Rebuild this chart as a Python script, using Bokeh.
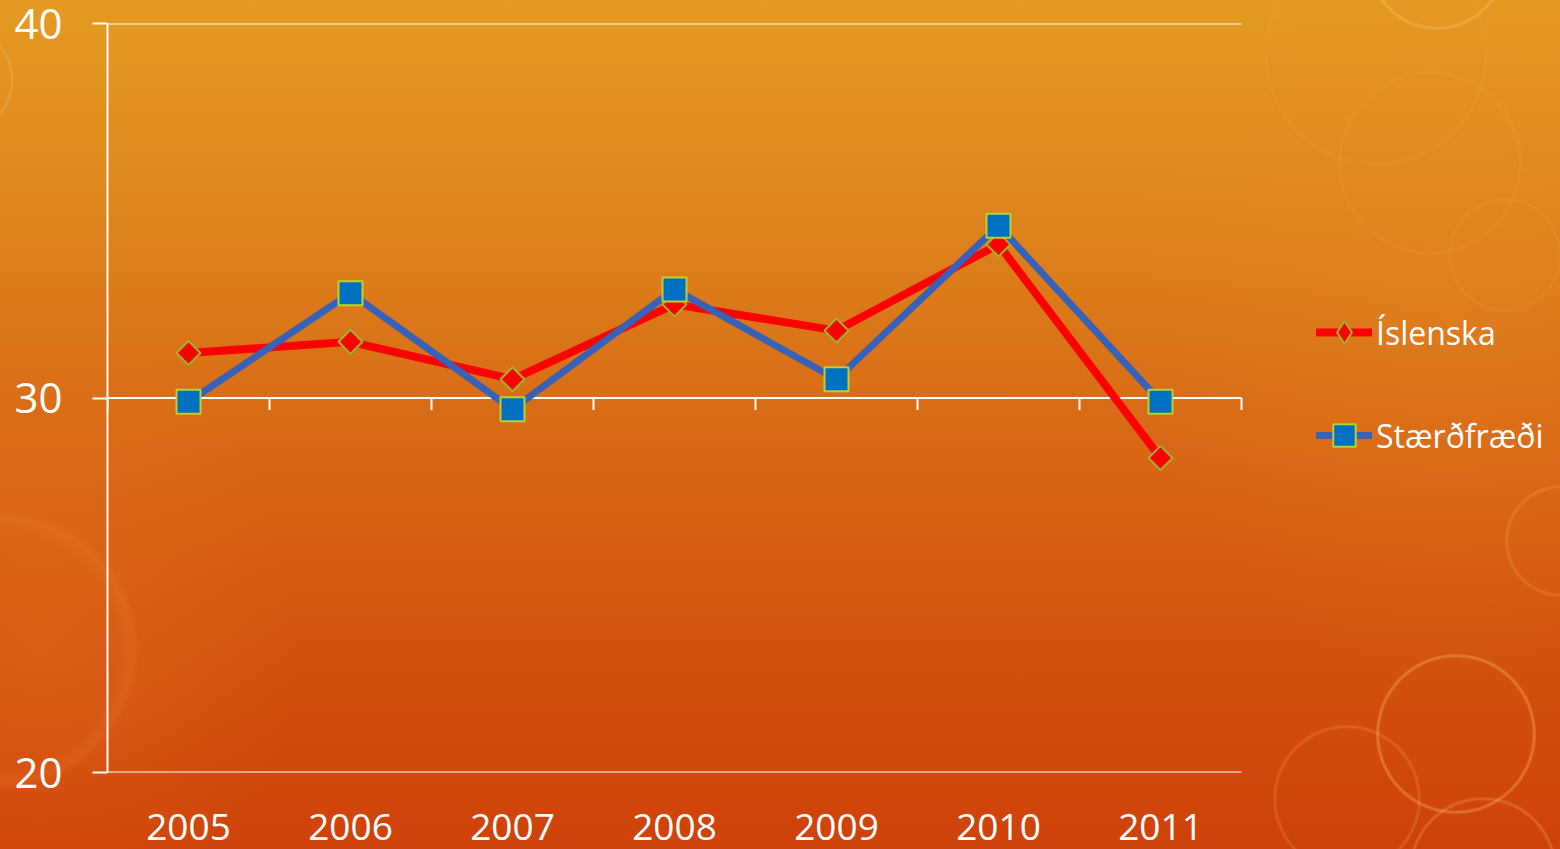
import numpy as np
from bokeh.plotting import figure
from bokeh.models import (Range1d, FixedTicker, Legend, LegendItem,
                          GlobalInlineStyleSheet)
from bokeh.embed import file_html
from bokeh.resources import INLINE

# ---------------- data ----------------
years = ["2005", "2006", "2007", "2008", "2009", "2010", "2011"]
islenska = [31.2, 31.5, 30.5, 32.5, 31.8, 34.1, 28.4]
staerdfraedi = [29.9, 32.8, 29.7, 32.9, 30.5, 34.6, 29.9]
y_ticks = [20, 30, 40]
series_names = ["Íslenska", "Stærðfræði"]
x_axis_cross = 30

# ---------------- layout constants ----------------
FONT = "Open Sans"
W, H = 1560, 849
LEFT, TOP, BOTTOM = 107, 23, 77
PLOT_W = 1134                      # width of the plotting area proper
frame_w = W - LEFT                 # frame extends to the right edge (legend lives there)
frame_h = H - TOP - BOTTOM
n = len(years)
x_end = n * frame_w / PLOT_W

xs = [i + 0.5 for i in range(n)]
bounds = list(range(n + 1))

rings = [
    (1437, -39, 67, 0.30), (1376, 54, 110, 0.06), (1430, 163, 90, 0.07),
    (1505, 255, 55, 0.07), (1456, 734, 78, 0.30), (1347, 799, 72, 0.16),
    (1483, 871, 72, 0.22), (1561, 541, 54, 0.16), (-40, 80, 52, 0.20),
]
layers = []
for cx, cy, r, a in rings:
    c = f"rgba(255,200,120,{a})"
    t = "rgba(255,200,120,0)"
    layers.append(f"radial-gradient(circle at {cx}px {cy}px, {t} {r-2}px, {c} {r-0.5}px, {c} {r+1}px, {t} {r+2.5}px)")
layers.append("radial-gradient(circle at 0px 650px, rgba(240,140,50,0) 118px, rgba(240,140,50,0.18) 132px, rgba(240,140,50,0) 140px)")
layers.append("radial-gradient(ellipse 260px 320px at 40px 640px, rgba(235,125,35,0.30), rgba(235,125,35,0))")
layers.append("radial-gradient(ellipse 320px 380px at 1450px 300px, rgba(235,140,40,0.22), rgba(235,140,40,0))")
layers.append("linear-gradient(to bottom, #E49B21 0px, #DF881D 180px, #D96D17 400px, #D4550F 620px, #CF420A 849px)")
css = ("html{min-height:100%;background-color:#CF420A;background-repeat:no-repeat;"
       "background-size:1560px 849px;background-image:" + ",".join(layers) + ";}"
       "body{background:transparent;}")

p = figure(width=W, height=H,
           x_range=Range1d(0, x_end), y_range=Range1d(y_ticks[0], y_ticks[-1]),
           output_backend="svg", toolbar_location=None,
           min_border_left=LEFT, min_border_right=0,
           min_border_top=TOP, min_border_bottom=BOTTOM,
           background_fill_alpha=0, border_fill_alpha=0,
           outline_line_color=None)
p.stylesheets = [GlobalInlineStyleSheet(css=css)]

# horizontal gridlines, limited to the category span
p.xgrid.visible = False
p.ygrid.visible = False
p.segment(x0=[bounds[0]] * len(y_ticks), x1=[bounds[-1]] * len(y_ticks),
          y0=y_ticks, y1=y_ticks, line_color="white", line_width=2)

# y axis
p.yaxis.ticker = FixedTicker(ticks=y_ticks)
p.yaxis.axis_line_color = "white"
p.yaxis.axis_line_width = 2
p.yaxis.major_tick_line_color = "white"
p.yaxis.major_tick_line_width = 2
p.yaxis.major_tick_out = 15
p.yaxis.major_tick_in = 0
p.yaxis.minor_tick_line_color = None
p.yaxis.major_label_text_color = "white"
p.yaxis.major_label_text_font = FONT
p.yaxis.major_label_text_font_size = "42px"
p.yaxis.major_label_standoff = 30

# x axis (labels only, at the bottom)
p.xaxis.ticker = FixedTicker(ticks=xs)
p.xaxis.major_label_overrides = {x: y for x, y in zip(xs, years)}
p.xaxis.axis_line_color = None
p.xaxis.major_tick_line_color = None
p.xaxis.minor_tick_line_color = None
p.xaxis.major_tick_out = 0
p.xaxis.major_tick_in = 0
p.xaxis.major_label_text_color = "white"
p.xaxis.major_label_text_font = FONT
p.xaxis.major_label_text_font_size = "37px"
p.xaxis.major_label_standoff = 41

# category axis line crosses at 30: tick marks hanging down at category boundaries
dy = 12 * (y_ticks[-1] - y_ticks[0]) / frame_h
p.segment(x0=bounds, y0=[x_axis_cross] * len(bounds), x1=bounds,
          y1=[x_axis_cross - dy] * len(bounds), line_color="white", line_width=2)

# series
RED, RED_EDGE = "#FF0000", "#9DB52C"
BLUE_LINE, BLUE_FILL, BLUE_EDGE = "#3762B8", "#0070C0", "#BCD02E"

r1 = p.line(xs, islenska, line_color=RED, line_width=8, line_cap="round", line_join="round")
s1 = p.scatter(xs, islenska, marker="square", angle=np.pi / 4, size=17,
               fill_color=RED, line_color=RED_EDGE, line_width=2)
# diamond marker used for the legend swatch (the legend ignores marker angles)
d1 = p.scatter(xs, islenska, marker="diamond", size=0,
               fill_color=RED, line_color=RED_EDGE, line_width=2)
r2 = p.line(xs, staerdfraedi, line_color=BLUE_LINE, line_width=7, line_cap="round", line_join="round")
s2 = p.scatter(xs, staerdfraedi, marker="square", size=24,
               fill_color=BLUE_FILL, line_color=BLUE_EDGE, line_width=2)

legend = Legend(items=[LegendItem(label=series_names[0], renderers=[r1, d1]),
                       LegendItem(label=series_names[1], renderers=[r2, s2])],
                location=(1316 - LEFT, 309), orientation="vertical",
                glyph_width=56, glyph_height=56, label_height=56,
                spacing=47, padding=0, margin=0, label_standoff=4,
                border_line_color=None, background_fill_alpha=0,
                label_text_color="white", label_text_font=FONT,
                label_text_font_size="32px")
p.add_layout(legend)

open("out.html", "w").write(file_html(p, INLINE))
